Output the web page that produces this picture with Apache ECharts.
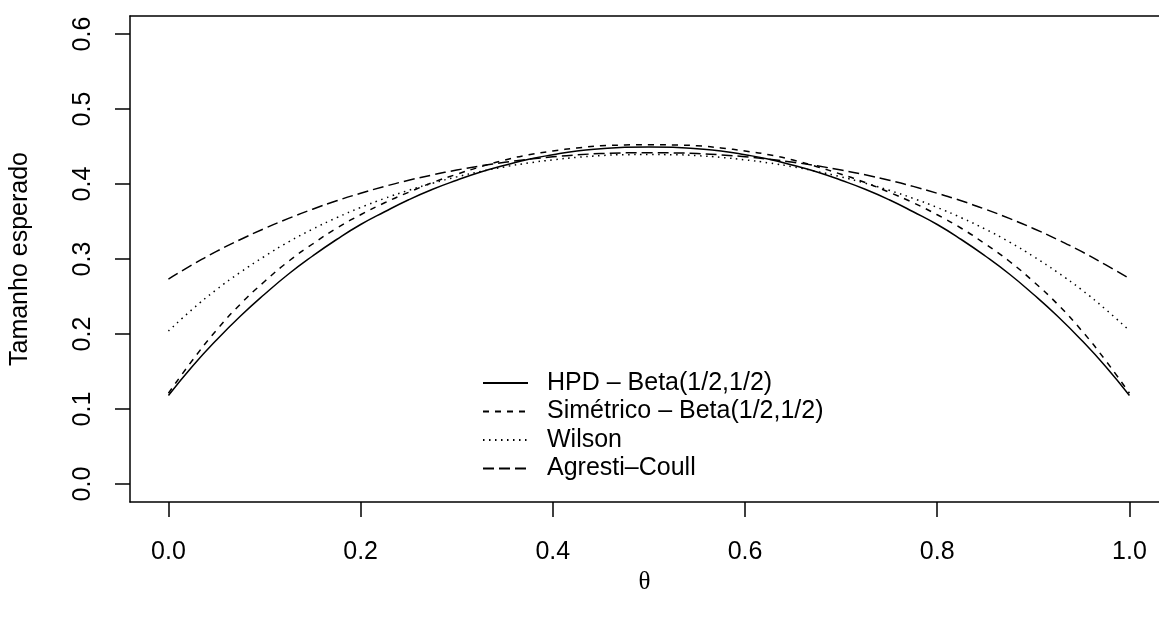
<!DOCTYPE html>
<html>
<head>
<meta charset="utf-8">
<script src="https://cdn.jsdelivr.net/npm/echarts@6/dist/echarts.min.js"></script>
<style>
html,body{margin:0;padding:0;background:#fff;}
#chart{width:1159px;height:621px;}
</style>
</head>
<body>
<div id="chart"></div>
<script>
// ---- data ----
var theta = [0,0.025,0.05,0.075,0.1,0.125,0.15,0.175,0.2,0.225,0.25,0.275,0.3,0.325,0.35,0.375,0.4,0.425,0.45,0.475,0.5,
             0.525,0.55,0.575,0.6,0.625,0.65,0.675,0.7,0.725,0.75,0.775,0.8,0.825,0.85,0.875,0.9,0.925,0.95,0.975,1];
var hpd = [0.118,0.157,0.192,0.224,0.253,0.280,0.304,0.326,0.346,0.363,0.379,0.393,0.405,0.416,0.425,0.433,0.439,0.444,0.447,0.449,0.4495,
           0.449,0.447,0.444,0.439,0.433,0.425,0.416,0.405,0.393,0.379,0.363,0.346,0.326,0.304,0.280,0.253,0.224,0.192,0.157,0.118];
var simetrico = [0.121,0.165,0.205,0.240,0.270,0.297,0.320,0.341,0.359,0.375,0.389,0.402,0.413,0.423,0.432,0.439,0.444,0.448,0.451,0.452,0.4525,
                 0.452,0.451,0.448,0.444,0.439,0.432,0.423,0.413,0.402,0.389,0.375,0.359,0.341,0.320,0.297,0.270,0.240,0.205,0.165,0.121];
var wilson = [0.2039,0.2331,0.2592,0.2824,0.3035,0.3228,0.3398,0.3550,0.3687,0.3808,0.3916,0.4011,0.4095,0.4167,0.4229,0.4281,0.4322,0.4355,0.4378,0.4391,0.4392,
              0.4391,0.4378,0.4355,0.4322,0.4281,0.4229,0.4167,0.4095,0.4011,0.3916,0.3808,0.3687,0.3550,0.3398,0.3228,0.3035,0.2824,0.2592,0.2331,0.2045];
var agresti = [0.2732,0.2924,0.3101,0.3260,0.3407,0.3541,0.3664,0.3776,0.3876,0.3968,0.4050,0.4122,0.4186,0.4242,0.4290,0.4330,0.4363,0.4388,0.4406,0.4415,0.4417,
               0.4415,0.4406,0.4388,0.4363,0.4330,0.4290,0.4242,0.4186,0.4122,0.4050,0.3968,0.3876,0.3776,0.3664,0.3541,0.3407,0.3260,0.3101,0.2924,0.2740];
var xTicks = [0,0.2,0.4,0.6,0.8,1.0];
var yTicks = [0,0.1,0.2,0.3,0.4,0.5,0.6];
var seriesNames = ['HPD \u2013 Beta(1/2,1/2)','Sim\u00e9trico \u2013 Beta(1/2,1/2)','Wilson','Agresti\u2013Coull'];
var xTitle = '\u03b8';
var yTitle = 'Tamanho esperado';

function pairs(ys){ return theta.map(function(t,i){ return [t, ys[i]]; }); }

var FONT = '"Liberation Sans", Arial, Helvetica, sans-serif';
var chart = echarts.init(document.getElementById('chart'), null, {renderer:'canvas'});
var lw = 1.5;
function mk(name, ys, type){
  return {name:name, type:'line', xAxisIndex:0, yAxisIndex:0, data:pairs(ys), symbol:'none', showSymbol:false, smooth:true,
    lineStyle:{color:'#000', width:lw, type:type, cap:'butt'}, itemStyle:{color:'#000'}, z:3};
}
var axLine = {show:true, onZero:false, lineStyle:{color:'#000', width:1.5}};
chart.setOption({
  animation:false,
  backgroundColor:'#fff',
  grid:{left:130, top:16, right:0, height:486, show:false},
  xAxis:[{type:'value', min:-0.04, max:1.03076, position:'bottom',
    name:xTitle, nameLocation:'middle', nameGap:68,
    nameTextStyle:{fontFamily:'"Liberation Serif","DejaVu Serif",serif', fontSize:25, color:'#000'},
    axisLine:axLine,
    axisTick:{show:true, inside:false, length:15, customValues:xTicks, lineStyle:{color:'#000', width:1.5}},
    axisLabel:{show:true, customValues:xTicks, margin:38, fontFamily:FONT, fontSize:25, color:'#000',
      formatter:function(v){return v.toFixed(1);}},
    splitLine:{show:false}},
   {type:'value', min:-0.04, max:1.03076, position:'top', axisLine:axLine,
    axisTick:{show:false}, axisLabel:{show:false}, splitLine:{show:false}}],
  yAxis:{type:'value', min:-0.024, max:0.624, position:'left',
    name:yTitle, nameLocation:'middle', nameGap:97, nameRotate:90,
    nameTextStyle:{fontFamily:FONT, fontSize:25, color:'#000'},
    axisLine:axLine,
    axisTick:{show:true, inside:false, length:15, customValues:yTicks, lineStyle:{color:'#000', width:1.5}},
    axisLabel:{show:true, customValues:yTicks, rotate:90, margin:34, fontFamily:FONT, fontSize:25, color:'#000',
      formatter:function(v){return v.toFixed(1);}},
    splitLine:{show:false}},
  legend:{show:true, orient:'vertical', left:477, top:364, itemWidth:45, itemHeight:14, itemGap:0.5,
    data:seriesNames, itemStyle:{opacity:0},
    textStyle:{fontFamily:FONT, fontSize:25, color:'#000', lineHeight:28, padding:[0,0,0,14]},
    selectedMode:false},
  series:[
    mk(seriesNames[0], hpd, 'solid'),
    mk(seriesNames[1], simetrico, [6,6]),
    mk(seriesNames[2], wilson, [1.5,4.5]),
    mk(seriesNames[3], agresti, [11,5])
  ]
});
</script>
</body>
</html>
